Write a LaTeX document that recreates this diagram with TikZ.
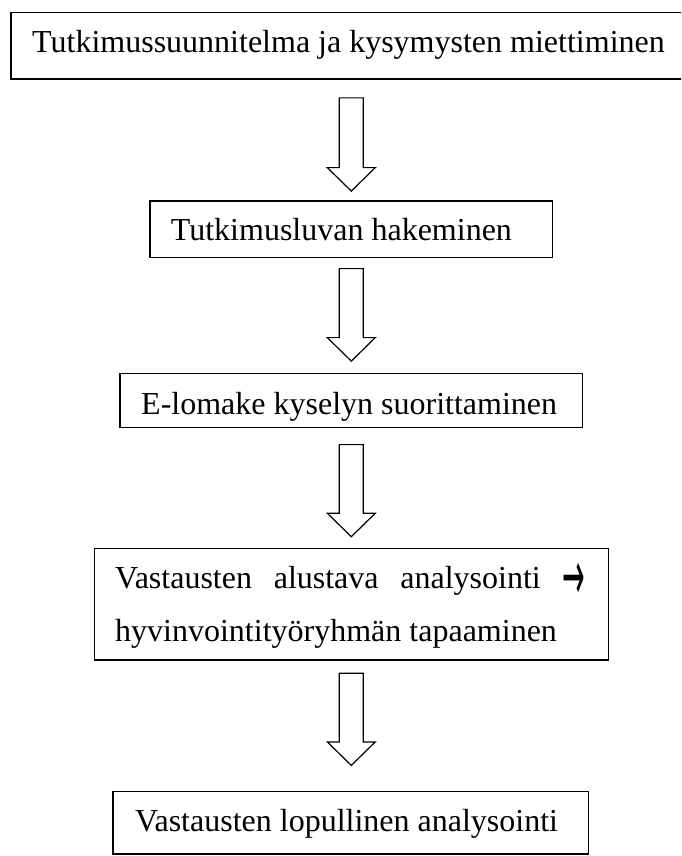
\documentclass[tikz,border=0pt]{standalone}
\usepackage{fontspec}
\setmainfont{Liberation Serif}
\newfontfamily\symfont{DejaVu Sans}
\usetikzlibrary{calc}
\newcommand\blockarr[2]{%
  \draw[blk] let \p1=(#1), \p2=(#2) in
    (\x1-12pt,\y1) -- (\x1+12pt,\y1) -- (\x1+12pt,\y2+23.5pt) --
    (\x1+24pt,\y2+23.5pt) -- (\x2,\y2) -- (\x1-24pt,\y2+23.5pt) --
    (\x1-12pt,\y2+23.5pt) -- cycle;}
\begin{document}
\begin{tikzpicture}[x=1pt,y=-1pt,
  box/.style={draw, line width=1.2pt, inner sep=0pt},
  txt/.style={anchor=base west, inner sep=0pt, font=\fontsize{32}{38}\selectfont},
  blk/.style={draw, line width=1.2pt, fill=white, line join=miter}]
\useasboundingbox (0,0) rectangle (681,856);
\clip (0,0) rectangle (681,856);
% boxes
\node[box, minimum width=680.6pt, minimum height=66.7pt] (b1) at (351.3,45.65) {};
\node[box, minimum width=402.3pt, minimum height=56.7pt] (b2) at (351.2,229.35) {};
\node[box, minimum width=462.7pt, minimum height=54.4pt] (b3) at (351.35,400.5) {};
\node[box, minimum width=514pt, minimum height=111.7pt] (b4) at (351.3,604.15) {};
\node[box, minimum width=475.8pt, minimum height=62.3pt] (b5) at (350.9,822.85) {};
% texts
\node[txt] (t1) at (32,53) {Tutkimussuunnitelma ja kysymysten miettiminen};
\node[txt] (t2) at (170.7,240.7) {Tutkimusluvan hakeminen};
\node[txt] (t3) at (141,414) {E-lomake kyselyn suorittaminen};
\node[txt] (t4a) at (115,588) {\hbox to 470pt{Vastausten\hfill alustava\hfill analysointi\hfill\raisebox{-11pt}{\scalebox{0.75}[1.9]{\symfont\fontsize{36}{40}\selectfont →}}}};
\node[txt] (t4b) at (115,641.7) {hyvinvointityöryhmän tapaaminen};
\node[txt] (t5) at (134.8,831.7) {Vastausten lopullinen analysointi};
% arrow end points
\coordinate (a1t) at ($(b1.south)+(0,18.3)$);
\coordinate (a1p) at ($(b2.north)+(0.1,-9.3)$);
\coordinate (a2t) at ($(b2.south)+(0.1,10.3)$);
\coordinate (a2p) at ($(b3.north)+(-0.05,-11.6)$);
\coordinate (a3t) at ($(b3.south)+(-0.05,16.3)$);
\coordinate (a3p) at ($(b4.north)+(0,-11)$);
\coordinate (a4t) at ($(b4.south)+(0,12.7)$);
\coordinate (a4p) at ($(b5.north)+(0.4,-25.7)$);
\blockarr{a1t}{a1p}
\blockarr{a2t}{a2p}
\blockarr{a3t}{a3p}
\blockarr{a4t}{a4p}
\end{tikzpicture}
\end{document}
